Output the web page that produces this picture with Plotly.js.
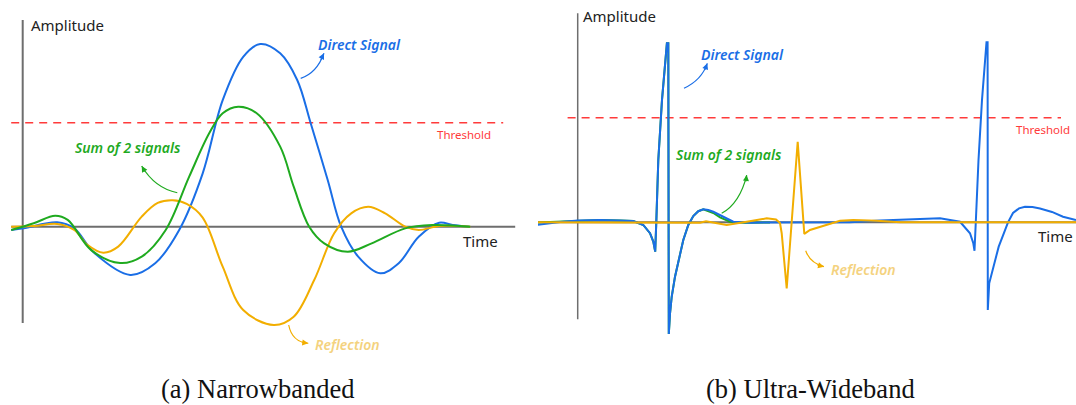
<!DOCTYPE html>
<html>
<head>
<meta charset="utf-8">
<script src="https://cdn.plot.ly/plotly-3.0.1.min.js"></script>
<style>html,body{margin:0;padding:0;background:#fff;}#chart{width:1076px;height:405px;}</style>
</head>
<body>
<div id="chart"></div>
<script>
// ---------- Panel (a) Narrowbanded ----------
const directA_t   = [-0.23,0.02,0.69,1.03,1.44,2.15,2.65,3.13,3.60,4.00,4.41,4.75,5.15,5.49,5.76,6.10,6.37,6.71,7.15,7.52,7.92,8.33,8.60,8.93];
const directA_amp = [-0.018,-0.009,0.024,-0.009,-0.146,-0.264,-0.200,-0.018,0.292,0.693,0.930,1.0,0.949,0.803,0.566,0.256,0.0,-0.164,-0.255,-0.200,-0.055,0.022,0.009,0.0];
const sumA_t   = [-0.23,0.22,0.65,0.90,1.37,1.95,2.38,2.86,3.33,3.73,4.00,4.31,4.68,5.15,5.42,5.73,6.03,6.50,6.98,7.65,8.19,8.95];
const sumA_amp = [-0.018,0.019,0.060,0.037,-0.128,-0.199,-0.164,-0.018,0.274,0.511,0.621,0.657,0.621,0.438,0.219,0.0,-0.091,-0.137,-0.091,-0.009,0.009,0.0];
const reflA_t   = [-0.23,0.22,0.69,1.03,1.30,1.61,1.91,2.38,2.70,3.00,3.28,3.60,4.00,4.41,5.02,5.42,5.83,6.23,6.57,6.91,7.25,7.65,7.92,8.33,8.95];
const reflA_amp = [0.0,0.004,0.015,-0.018,-0.100,-0.142,-0.109,0.055,0.130,0.145,0.125,0.050,-0.219,-0.456,-0.538,-0.493,-0.292,-0.036,0.073,0.109,0.073,0.0,-0.018,0.004,0.0];
const thresholdA = 0.569;

// ---------- Panel (b) Ultra-Wideband ----------
const directB_t   = [-0.814,-0.354,0.006,0.446,0.846,1.112,1.312,1.446,1.512,1.550,1.572,1.612,1.686,1.784,1.812,1.822,1.846,1.880,1.946,2.012,2.112,2.212,2.312,2.412,2.512,2.612,2.712,2.912,3.112,3.446,4.446,5.446,6.046,6.646,7.246,7.646,7.846,7.912,7.936,7.962,8.016,8.086,8.176,8.198,8.202,8.230,8.314,8.420,8.524,8.606,8.706,8.826,8.946,9.096,9.246,9.486,9.706,9.966];
const directB_amp = [-0.015,0.002,0.010,0.013,0.010,0.007,-0.015,-0.061,-0.108,-0.164,0.002,0.348,0.684,1.0,1.0,-0.624,-0.510,-0.416,-0.304,-0.220,-0.099,-0.015,0.035,0.062,0.073,0.069,0.059,0.031,0.003,-0.002,-0.002,0.0,0.010,0.018,0.022,0.003,-0.061,-0.117,-0.159,0.002,0.348,0.684,1.006,1.006,-0.490,-0.341,-0.248,-0.136,-0.061,0.0,0.052,0.078,0.087,0.085,0.077,0.058,0.031,0.013];
const sumB_t   = [-0.814,-0.354,0.006,0.446,0.846,1.112,1.312,1.446,1.512,1.550,1.572,1.612,1.686,1.784,1.812,1.822,1.846,1.880,1.946,2.012,2.112,2.212,2.312,2.412,2.512,2.712,2.846,3.046,3.346,3.846];
const sumB_amp = [-0.001,0.004,0.010,0.013,0.010,0.007,-0.015,-0.061,-0.108,-0.164,0.002,0.348,0.684,1.0,1.0,-0.624,-0.510,-0.416,-0.304,-0.220,-0.099,-0.015,0.035,0.062,0.073,0.052,0.028,0.003,-0.002,-0.001];
const reflB_t   = [-0.814,0.446,1.646,2.446,2.566,2.746,2.98,3.38,3.78,3.966,4.046,4.08,4.18,4.40,4.532,4.646,4.98,5.246,5.512,5.98,6.446,8.446,9.966];
const reflB_amp = [0.0,-0.001,-0.002,-0.002,0.006,-0.004,-0.015,0.003,0.022,0.016,-0.004,-0.061,-0.369,0.450,-0.065,-0.043,-0.015,0.009,0.013,0.009,0.0,-0.001,0.0];
const thresholdB = 0.584;

const labels = {
  amplitude: 'Amplitude', time: 'Time', direct: 'Direct Signal',
  sum: 'Sum of 2 signals', refl: 'Reflection', threshold: 'Threshold',
  capA: '(a) Narrowbanded', capB: '(b) Ultra-Wideband'
};

const BLUE = '#1a6ee6', GREEN = '#1faa1f', ORANGE = '#f2ae00', RED = '#ff3b3b', AXIS = '#6e6e6e';
const HAND = 'Noto Sans, sans-serif';

function tr(x, y, color, xa, ya, shape) {
  return {x: x, y: y, mode: 'lines', xaxis: xa, yaxis: ya, hoverinfo: 'skip',
          line: {color: color, width: 2, shape: shape, smoothing: 1}};
}
const traces = [
  tr(directA_t, directA_amp, BLUE, 'x', 'y', 'spline'),
  tr(reflA_t, reflA_amp, ORANGE, 'x', 'y', 'spline'),
  tr(sumA_t, sumA_amp, GREEN, 'x', 'y', 'spline'),
  tr(sumB_t, sumB_amp, GREEN, 'x2', 'y2', 'linear'),
  tr(directB_t, directB_amp, BLUE, 'x2', 'y2', 'linear'),
  tr(reflB_t, reflB_amp, ORANGE, 'x2', 'y2', 'linear')
];

function line(xr, yr, x0, y0, x1, y1, color, width, dash) {
  return {type: 'line', xref: xr, yref: yr, x0: x0, y0: y0, x1: x1, y1: y1, layer: 'below',
          line: {color: color, width: width, dash: dash || 'solid'}};
}
function curve(xr, yr, p0, c, p1, color) {
  return {type: 'path', xref: xr, yref: yr, layer: 'above',
          path: 'M' + p0[0] + ',' + p0[1] + ' Q' + c[0] + ',' + c[1] + ' ' + p1[0] + ',' + p1[1],
          line: {color: color, width: 1.2}};
}
const shapes = [
  line('x', 'y', 0, -0.527, 0, 1.131, AXIS, 2),
  line('x', 'y', -0.23, 0, 9.85, 0, AXIS, 2),
  line('x', 'y', -0.23, thresholdA, 9.61, thresholdA, RED, 1.5, '8px,6px'),
  line('x2', 'y2', 0, -0.542, 0, 1.168, AXIS, 1.5),
  line('x2', 'y2', -0.814, 0, 9.966, 0, AXIS, 2),
  line('x2', 'y2', -0.202, thresholdB, 9.666, thresholdB, RED, 1.5, '8px,6px'),
  curve('x', 'y', [5.56, 0.812], [5.88, 0.840], [6.026, 0.949], BLUE),
  curve('x', 'y', [3.092, 0.186], [2.646, 0.210], [2.38, 0.332], GREEN),
  curve('x', 'y', [5.32, -0.538], [5.386, -0.631], [5.712, -0.638], ORANGE),
  curve('x2', 'y2', [2.126, 0.749], [2.48, 0.795], [2.592, 0.888], BLUE),
  curve('x2', 'y2', [2.88, 0.050], [3.246, 0.108], [3.38, 0.264], GREEN),
  curve('x2', 'y2', [4.56, -0.159], [4.646, -0.227], [4.926, -0.248], ORANGE)
];

function txt(xr, yr, x, y, text, color, size, italic, xanchor) {
  return {xref: xr, yref: yr, x: x, y: y, text: text, showarrow: false,
          xanchor: xanchor || 'center', yanchor: 'middle',
          font: {family: HAND, size: size, color: color, style: italic ? 'italic' : 'normal',
                 weight: italic ? 600 : 400}};
}
function head(xr, yr, x, y, ax, ay, color) {
  return {xref: xr, yref: yr, x: x, y: y, ax: ax, ay: ay, text: '', showarrow: true,
          arrowhead: 2, arrowsize: 1, arrowwidth: 1.2, arrowcolor: color, standoff: 0};
}
const annotations = [
  txt('x', 'y', 0.886, 1.104, labels.amplitude, '#222', 15, false),
  txt('x', 'y', 9.156, -0.078, labels.time, '#222', 15, false),
  txt('x', 'y', 6.726, 0.997, labels.direct, BLUE, 14, true),
  txt('x', 'y', 2.096, 0.433, labels.sum, GREEN, 14, true),
  txt('x', 'y', 8.826, 0.507, labels.threshold, RED, 11.5, false),
  txt('x', 'y', 6.486, -0.642, labels.refl, '#f4d27e', 14, true),
  txt('x2', 'y2', 0.836, 1.155, labels.amplitude, '#222', 15, false),
  txt('x2', 'y2', 9.95, -0.079, labels.time, '#222', 15, false, 'right'),
  txt('x2', 'y2', 3.296, 0.935, labels.direct, BLUE, 14, true),
  txt('x2', 'y2', 3.018, 0.376, labels.sum, GREEN, 14, true),
  txt('x2', 'y2', 9.306, 0.521, labels.threshold, RED, 11.5, false),
  txt('x2', 'y2', 5.706, -0.261, labels.refl, '#f4d27e', 14, true),
  head('x', 'y', 6.026, 0.949, -4, 8, BLUE),
  head('x', 'y', 2.38, 0.332, 4, 7, GREEN),
  head('x', 'y', 5.712, -0.638, -8, -1, ORANGE),
  head('x2', 'y2', 2.592, 0.888, -3, 8, BLUE),
  head('x2', 'y2', 3.38, 0.264, -1, 8, GREEN),
  head('x2', 'y2', 4.926, -0.248, -8, -2, ORANGE),
  {xref: 'paper', yref: 'paper', x: 0.2398, y: 0.0395, text: labels.capA, showarrow: false,
   xanchor: 'center', yanchor: 'middle', font: {family: 'Liberation Serif, serif', size: 26.5, color: '#111'}},
  {xref: 'paper', yref: 'paper', x: 0.7537, y: 0.0395, text: labels.capB, showarrow: false,
   xanchor: 'center', yanchor: 'middle', font: {family: 'Liberation Serif, serif', size: 26.5, color: '#111'}}
];

const ax = {visible: false, fixedrange: true, showgrid: false, zeroline: false};
const layout = {
  width: 1076, height: 405, autosize: false,
  margin: {l: 0, r: 0, t: 0, b: 0, pad: 0},
  paper_bgcolor: '#fff', plot_bgcolor: 'rgba(0,0,0,0)', showlegend: false,
  xaxis:  Object.assign({}, ax, {domain: [0, 0.5], range: [-0.454, 10.306]}),
  yaxis:  Object.assign({}, ax, {domain: [0, 1], range: [-0.9759, 1.2408]}),
  xaxis2: Object.assign({}, ax, {domain: [0.5, 1], range: [-0.794, 9.966], anchor: 'y2'}),
  yaxis2: Object.assign({}, ax, {domain: [0, 1], range: [-1.0207, 1.2419], anchor: 'x2'}),
  shapes: shapes, annotations: annotations
};
Plotly.newPlot('chart', traces, layout, {staticPlot: true, displayModeBar: false});
</script>
</body>
</html>
